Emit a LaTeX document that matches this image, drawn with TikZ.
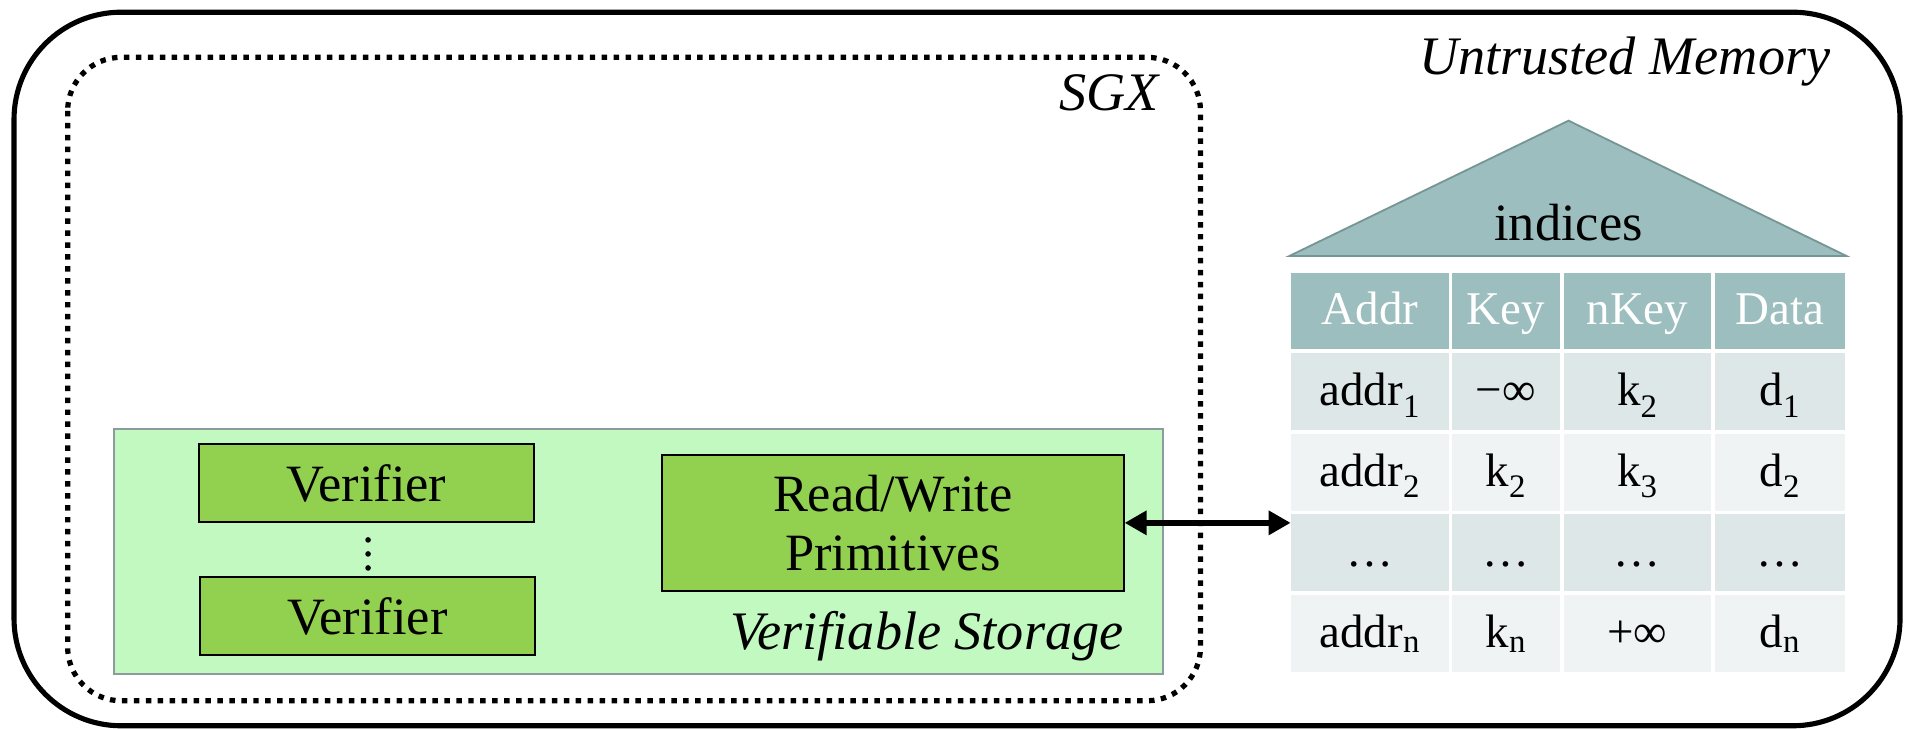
\documentclass[tikz,border=0pt]{standalone}
\usepackage{fontspec}
\setmainfont{Liberation Serif}
\usetikzlibrary{arrows.meta}

\definecolor{storefill}{RGB}{193,249,193}
\definecolor{storeline}{RGB}{140,156,156}
\definecolor{boxgreen}{RGB}{146,208,80}
\definecolor{idxteal}{RGB}{157,190,190}
\definecolor{idxline}{RGB}{118,150,150}
\definecolor{rowdark}{RGB}{222,231,232}
\definecolor{rowlight}{RGB}{239,243,243}

\newcommand\bigtxt{\fontsize{43}{48}\selectfont}
\newcommand\lbltxt{\fontsize{44.5}{48}\selectfont}
\newcommand\tbltxt{\fontsize{38.5}{42}\selectfont}

\tikzset{
  memframe/.style={line width=4.2pt, rounded corners=88pt},
  sgxframe/.style={line width=4.3pt, dash pattern=on 4.5pt off 5.3pt, rounded corners=44pt},
  storearea/.style={fill=storefill, draw=storeline, line width=1.5pt},
  greenbox/.style={draw=black, fill=boxgreen, line width=1.5pt, inner sep=0pt,
                   font=\bigtxt, align=center},
  label/.style={inner sep=0pt, font=\lbltxt\itshape},
  roof/.style={fill=idxteal, draw=idxline, line width=1.5pt},
  tcell/.style={inner sep=0pt, font=\tbltxt, minimum height=63pt,
                text height=30pt, text depth=7pt},
  hdr/.style={tcell, fill=idxteal, text=white, minimum height=62pt},
  dk/.style={tcell, fill=rowdark},
  lt/.style={tcell, fill=rowlight},
  colA/.style={minimum width=130pt},
  colB/.style={minimum width=89pt},
  colC/.style={minimum width=121pt},
  colD/.style={minimum width=107pt},
  dblarrow/.style={line width=5pt, {Triangle[length=18pt,width=19pt]}-{Triangle[length=18pt,width=19pt]}}
}

\begin{document}
\begin{tikzpicture}[x=1pt,y=-1pt]
\useasboundingbox (0,0) rectangle (1568,598);

% untrusted memory and the enclave
\draw[memframe] (11.5,10) rectangle (1559,595.5);
\node[label, anchor=base east] (umem) at (1502,61) {Untrusted Memory};
\draw[sgxframe] (55.5,47) rectangle (985,575);
\node[label, anchor=base east] (sgx) at (951,91) {SGX};

% verifiable storage inside the enclave
\fill[storearea] (93.5,352) rectangle (954.5,553);
\node[label, anchor=base east] (vstore) at (922,533) {Verifiable Storage};
\node[greenbox, minimum width=275pt, minimum height=64pt] (ver1) at (300.5,396.5) {Verifier};
\node[greenbox, minimum width=275pt, minimum height=64pt] (ver2) at (301.5,505.5) {Verifier};
\foreach \yy in {443,454.5,466} \fill (302,\yy) circle (2.3pt);
\node[greenbox, minimum width=379pt, minimum height=112pt] (rw) at (732.5,429) {Read/Write\\Primitives};

% index structure in untrusted memory
\draw[roof] (1058,210) -- (1287,99) -- (1515,210) -- cycle;
\node[inner sep=0pt, font=\bigtxt, anchor=base] (idx) at (1287,197) {indices};

\node[hdr,colA] (h1) at (1124,255) {Addr};
\node[hdr,colB] (h2) at (1235.5,255) {Key};
\node[hdr,colC] (h3) at (1343.5,255) {nKey};
\node[hdr,colD] (h4) at (1460.5,255) {Data};

\node[dk,colA] (a1) at (1124,321.5) {addr\textsubscript{1}};
\node[dk,colB] (b1) at (1235.5,321.5) {−∞};
\node[dk,colC] (c1) at (1343.5,321.5) {k\textsubscript{2}};
\node[dk,colD] (d1) at (1460.5,321.5) {d\textsubscript{1}};

\node[lt,colA] (a2) at (1124,387.5) {addr\textsubscript{2}};
\node[lt,colB] (b2) at (1235.5,387.5) {k\textsubscript{2}};
\node[lt,colC] (c2) at (1343.5,387.5) {k\textsubscript{3}};
\node[lt,colD] (d2) at (1460.5,387.5) {d\textsubscript{2}};

\node[dk,colA] (a3) at (1124,453.5) {…};
\node[dk,colB] (b3) at (1235.5,453.5) {…};
\node[dk,colC] (c3) at (1343.5,453.5) {…};
\node[dk,colD] (d3) at (1460.5,453.5) {…};

\node[lt,colA] (a4) at (1124,519.5) {addr\textsubscript{n}};
\node[lt,colB] (b4) at (1235.5,519.5) {k\textsubscript{n}};
\node[lt,colC] (c4) at (1343.5,519.5) {+∞};
\node[lt,colD] (d4) at (1460.5,519.5) {d\textsubscript{n}};

% read/write access between the primitives and the table
\coordinate (tblin) at (1059,429);
\draw[dblarrow] (rw.east) -- (tblin);
\end{tikzpicture}
\end{document}
